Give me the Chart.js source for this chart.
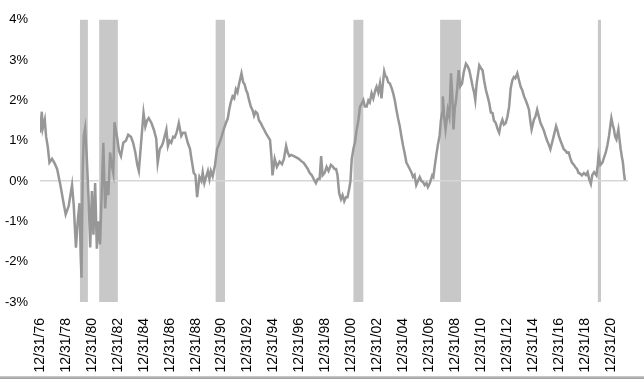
<!DOCTYPE html>
<html><head><meta charset="utf-8">
<script src="https://cdn.jsdelivr.net/npm/chart.js@4/dist/chart.umd.min.js"></script>
<style>
html,body{margin:0;padding:0;background:#fff;overflow:hidden}
#wrap{width:644px;height:376px;position:relative}
#bar{width:644px;height:3px;background:linear-gradient(#cfcfcf,#9a9a9a)}
</style></head><body>
<div id="wrap"><canvas id="c"></canvas></div><div id="bar"></div>
<script>
const years = [1977.00,1977.14,1977.21,1977.37,1977.47,1977.60,1977.73,1977.93,1978.11,1978.32,1978.57,1978.82,1978.98,1979.21,1979.47,1979.60,1979.77,1979.92,1980.05,1980.14,1980.20,1980.29,1980.37,1980.48,1980.61,1980.74,1980.87,1981.00,1981.12,1981.25,1981.38,1981.50,1981.63,1981.76,1981.88,1982.02,1982.15,1982.27,1982.40,1982.53,1982.65,1982.74,1982.96,1983.09,1983.24,1983.42,1983.62,1983.80,1984.01,1984.18,1984.35,1984.50,1984.62,1984.83,1984.98,1985.12,1985.25,1985.38,1985.59,1985.77,1985.96,1986.07,1986.23,1986.38,1986.48,1986.74,1986.86,1986.99,1987.12,1987.26,1987.38,1987.53,1987.70,1987.89,1988.03,1988.19,1988.39,1988.56,1988.65,1988.85,1988.98,1989.11,1989.29,1989.44,1989.54,1989.67,1989.80,1989.94,1990.06,1990.17,1990.31,1990.49,1990.65,1990.78,1990.95,1991.13,1991.33,1991.47,1991.59,1991.70,1991.84,1991.97,1992.10,1992.22,1992.35,1992.53,1992.66,1992.77,1992.89,1992.99,1993.12,1993.25,1993.39,1993.50,1993.62,1993.75,1993.88,1994.01,1994.15,1994.27,1994.42,1994.57,1994.73,1994.84,1994.92,1995.09,1995.26,1995.47,1995.65,1995.80,1995.97,1996.10,1996.22,1996.36,1996.56,1996.79,1996.95,1997.12,1997.33,1997.48,1997.64,1997.79,1997.94,1998.10,1998.27,1998.40,1998.55,1998.67,1998.78,1998.94,1999.09,1999.24,1999.42,1999.59,1999.70,1999.82,1999.93,2000.06,2000.20,2000.32,2000.45,2000.58,2000.70,2000.83,2000.93,2001.03,2001.16,2001.27,2001.41,2001.54,2001.67,2001.77,2001.92,2002.04,2002.18,2002.31,2002.42,2002.56,2002.69,2002.84,2002.94,2003.07,2003.20,2003.32,2003.42,2003.53,2003.63,2003.72,2003.84,2003.97,2004.11,2004.22,2004.35,2004.47,2004.60,2004.73,2004.86,2004.99,2005.10,2005.24,2005.37,2005.50,2005.62,2005.75,2005.87,2006.00,2006.13,2006.27,2006.40,2006.52,2006.65,2006.79,2006.90,2007.05,2007.23,2007.32,2007.44,2007.54,2007.67,2007.80,2007.90,2008.00,2008.05,2008.15,2008.26,2008.36,2008.43,2008.55,2008.68,2008.78,2008.87,2008.97,2009.07,2009.16,2009.27,2009.39,2009.53,2009.66,2009.83,2009.96,2010.09,2010.22,2010.35,2010.46,2010.55,2010.65,2010.86,2010.98,2011.11,2011.23,2011.37,2011.50,2011.63,2011.75,2011.88,2011.99,2012.13,2012.26,2012.39,2012.51,2012.64,2012.76,2012.90,2013.03,2013.16,2013.28,2013.41,2013.53,2013.64,2013.79,2013.92,2014.05,2014.18,2014.31,2014.43,2014.56,2014.69,2014.79,2014.89,2014.98,2015.07,2015.19,2015.32,2015.45,2015.58,2015.71,2015.84,2015.96,2016.09,2016.22,2016.34,2016.47,2016.60,2016.78,2016.89,2016.99,2017.12,2017.24,2017.37,2017.51,2017.62,2017.75,2017.89,2018.00,2018.16,2018.27,2018.39,2018.52,2018.65,2018.77,2018.92,2019.08,2019.21,2019.33,2019.46,2019.57,2019.71,2019.89,2019.99,2020.05,2020.19,2020.35,2020.49,2020.61,2020.74,2020.86,2020.99,2021.04,2021.14,2021.24,2021.33,2021.43,2021.53,2021.58,2021.68,2021.76,2021.85,2021.93,2022.01,2022.08];
const spread = [1.20,1.72,1.30,1.52,1.10,0.85,0.46,0.55,0.45,0.30,-0.10,-0.55,-0.83,-0.62,-0.10,-0.60,-1.65,-0.95,-0.55,-1.90,-2.40,0.20,1.12,1.32,0.55,-0.40,-1.65,-0.25,-1.33,-0.05,-1.68,-1.00,-1.57,-0.25,0.95,-0.68,0.00,-0.35,0.71,0.40,0.20,1.46,1.05,0.75,0.62,0.95,1.00,1.15,1.10,0.95,0.70,0.40,0.25,1.10,1.69,1.35,1.50,1.56,1.44,1.28,1.05,0.45,0.79,0.87,0.95,1.28,0.87,1.00,0.95,1.10,1.08,1.20,1.44,1.12,1.20,1.20,0.95,0.80,0.60,0.20,0.15,-0.40,0.10,0.00,0.22,-0.05,0.10,0.25,0.05,0.25,0.12,0.40,0.80,0.90,1.05,1.25,1.44,1.55,1.78,1.95,2.10,2.05,2.28,2.20,2.42,2.67,2.45,2.40,2.25,2.18,2.00,1.85,1.75,1.62,1.72,1.68,1.50,1.44,1.35,1.28,1.18,1.10,1.02,0.60,0.14,0.55,0.35,0.48,0.42,0.55,0.87,0.70,0.62,0.65,0.62,0.58,0.55,0.50,0.45,0.38,0.30,0.20,0.15,0.05,-0.05,0.05,0.05,0.62,0.14,0.20,0.35,0.25,0.40,0.35,0.30,0.30,0.15,-0.30,-0.45,-0.35,-0.50,-0.40,-0.40,-0.20,0.00,0.55,0.80,0.95,1.28,1.50,1.85,1.90,2.01,1.85,1.85,2.00,1.95,2.18,2.05,2.25,2.34,2.20,2.42,2.05,2.40,2.72,2.60,2.58,2.45,2.42,2.30,2.18,2.00,1.77,1.55,1.36,1.10,0.87,0.70,0.46,0.38,0.30,0.22,0.10,0.15,-0.10,0.00,0.10,0.00,-0.02,-0.10,-0.05,-0.15,-0.05,0.14,0.10,0.40,0.63,0.90,1.12,1.50,1.70,2.10,1.60,1.28,1.55,1.77,1.60,2.67,2.10,1.28,1.80,2.01,2.30,2.75,2.35,2.42,2.70,2.91,2.85,2.75,2.55,2.34,2.20,2.01,2.40,2.87,2.80,2.75,2.50,2.26,2.10,1.93,1.70,1.69,1.50,1.44,1.30,1.20,1.40,1.52,1.40,1.44,1.60,1.85,2.30,2.50,2.58,2.55,2.67,2.50,2.34,2.25,2.10,2.01,1.90,1.77,1.50,1.28,1.40,1.52,1.60,1.77,1.60,1.44,1.35,1.25,1.12,1.00,0.90,0.79,0.95,1.12,1.36,1.25,1.12,1.00,0.90,0.79,0.75,0.70,0.71,0.55,0.46,0.40,0.34,0.30,0.20,0.18,0.14,0.20,0.15,0.22,0.05,-0.07,0.15,0.22,0.14,0.40,0.63,0.40,0.46,0.60,0.71,0.90,1.12,1.45,1.56,1.40,1.28,1.10,1.03,1.20,1.28,1.00,0.79,0.60,0.46,0.20,0.02];
const tickYears = [1977,1979,1981,1983,1985,1987,1989,1991,1993,1995,1997,1999,2001,2003,2005,2007,2009,2011,2013,2015,2017,2019,2021];
const tickLabels = ['12/31/76','12/31/78','12/31/80','12/31/82','12/31/84','12/31/86','12/31/88','12/31/90','12/31/92','12/31/94','12/31/96','12/31/98','12/31/00','12/31/02','12/31/04','12/31/06','12/31/08','12/31/10','12/31/12','12/31/14','12/31/16','12/31/18','12/31/20'];
const recessionStart = [1980.08,1981.56,1990.54,2001.16,2007.84,2020.00];
const recessionEnd = [1980.69,1983.00,1991.26,2001.92,2009.45,2020.24];

const recessionPlugin = {
  id: 'recessions',
  beforeDraw(chart) {
    const {ctx, chartArea, scales} = chart;
    const x = scales.x;
    ctx.save();
    ctx.fillStyle = '#c8c8c8';
    recessionStart.forEach((s, i) => {
      const x0 = x.getPixelForValue(s);
      const x1 = x.getPixelForValue(recessionEnd[i]);
      ctx.fillRect(x0, chartArea.top, x1 - x0, chartArea.bottom - chartArea.top);
    });
    ctx.restore();
  }
};

Chart.defaults.font.family = "'Liberation Sans', Arial, sans-serif";
Chart.defaults.color = '#000';

new Chart(document.getElementById('c'), {
  type: 'line',
  data: {
    datasets: [{
      data: years.map((y, i) => ({x: y, y: spread[i]})),
      borderColor: '#979797',
      borderWidth: 2.5,
      pointRadius: 0,
      tension: 0,
      fill: false
    }]
  },
  options: {
    responsive: true,
    maintainAspectRatio: false,
    animation: false,
    layout: {padding: {top: 16, right: 12, left: 0, bottom: 0}},
    plugins: {legend: {display: false}, tooltip: {enabled: false}},
    scales: {
      x: {
        type: 'linear',
        min: 1977,
        max: 2022.33,
        afterBuildTicks: s => { s.ticks = tickYears.map(v => ({value: v})); },
        afterFit: s => { s.height = 74; },
        grid: {display: false, drawTicks: false},
        border: {display: false},
        ticks: {
          autoSkip: false,
          maxRotation: 90,
          minRotation: 90,
          padding: 16,
          font: {size: 14},
          callback: (v, i) => tickLabels[i]
        }
      },
      y: {
        min: -3,
        max: 4,
        afterFit: s => { s.width = 40; },
        border: {display: false},
        grid: {
          drawTicks: false,
          lineWidth: 1.5,
          color: c => c.tick && c.tick.value === 0 ? '#d6d6d6' : 'rgba(0,0,0,0)'
        },
        ticks: {
          stepSize: 1,
          padding: 12,
          font: {size: 13},
          callback: v => v + '%'
        }
      }
    }
  },
  plugins: [recessionPlugin]
});
</script>
</body></html>
